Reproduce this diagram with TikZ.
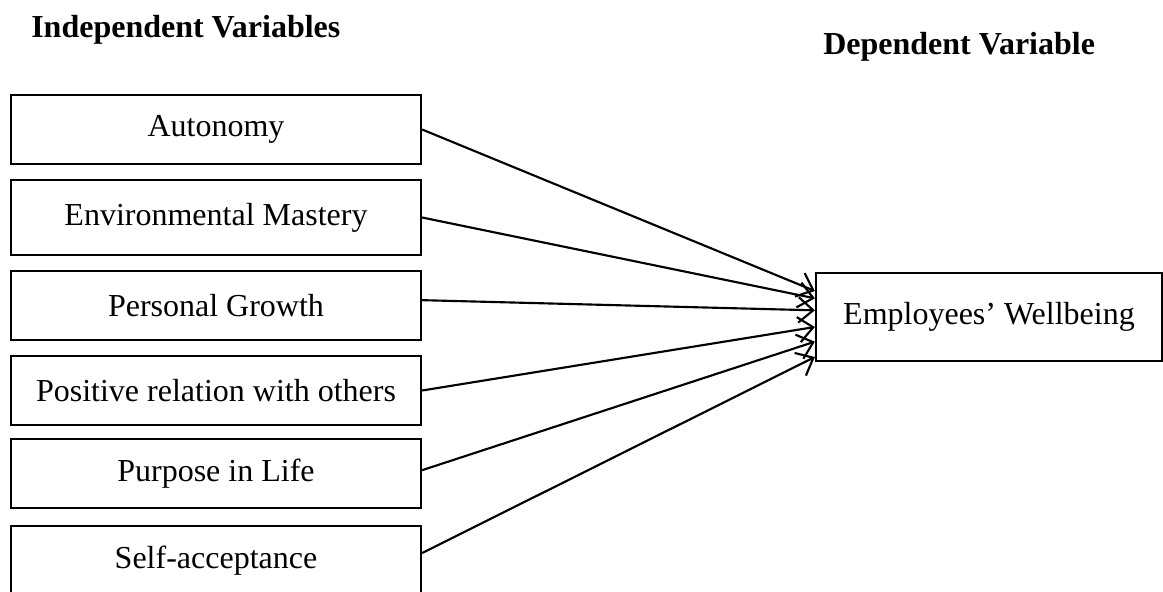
\documentclass[tikz,border=0pt]{standalone}
\usepackage{fontspec}
\setmainfont{Liberation Serif}
\usetikzlibrary{arrows.meta}

\begin{document}
\begin{tikzpicture}[x=0.75pt, y=-0.75pt,
	varbox/.style={draw, line width=1.7pt, minimum width=307.5pt, minimum height=52pt, inner sep=0pt, font=\fontsize{24}{28}\selectfont},
	heading/.style={anchor=base west, inner sep=0pt, font=\fontsize{24}{28}\selectfont\bfseries},
	link/.style={line width=1.6pt, -{Straight Barb[length=11pt, width=19pt]}}]
	\useasboundingbox (0, 0) rectangle (1163, 592);

	% Headings:
	\node[heading] (indep) at (31, 38) {Independent Variables};
	\node[heading] (dep) at (823, 55) {Dependent Variable};

	% Boxes:
	\node[varbox] (auto) at (216, 129.5) {Autonomy};
	\node[varbox, minimum height=56pt] (envir) at (216, 217.5) {Environmental Mastery};
	\node[varbox] (growth) at (216, 305.5) {Personal Growth};
	\node[varbox] (relat) at (216, 390.5) {Positive relation with others};
	\node[varbox] (purpose) at (216, 473.5) {Purpose in Life};
	\node[varbox] (accept) at (216, 561) {Self-acceptance};

	\node[varbox, minimum width=259.5pt, minimum height=66pt] (wellb) at (989, 317) {Employees’ Wellbeing};

	% Arrows:
	\draw[link] (auto.east) -- ([yshift=19.5pt]wellb.west);
	\draw[link] (envir.east) -- ([yshift=14pt]wellb.west);
	\draw[link] ([yshift=4pt]growth.east) -- ([yshift=5pt]wellb.west);
	\draw[link] (relat.east) -- ([yshift=-7.5pt]wellb.west);
	\draw[link] ([yshift=2.5pt]purpose.east) -- ([yshift=-18.5pt]wellb.west);
	\draw[link] ([yshift=6pt]accept.east) -- ([yshift=-30pt]wellb.west);

\end{tikzpicture}
\end{document}
